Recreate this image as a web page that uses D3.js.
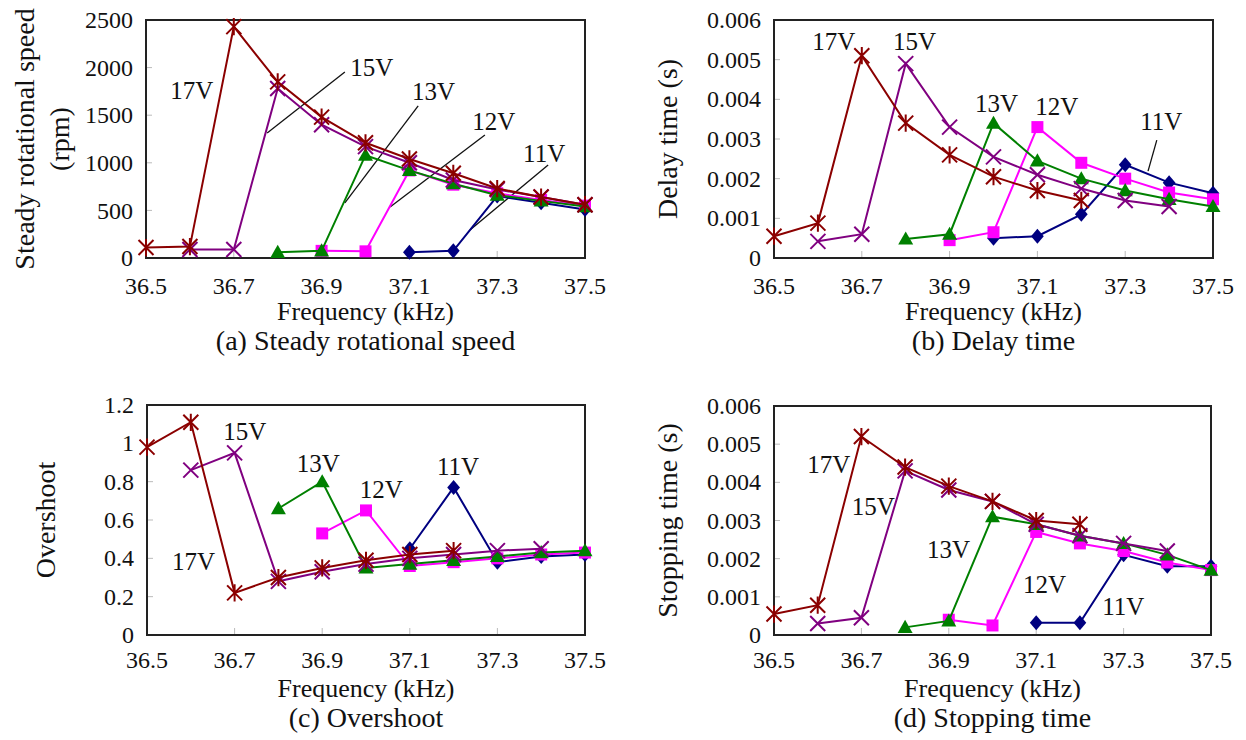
<!DOCTYPE html>
<html>
<head>
<meta charset="utf-8">
<script src="https://cdn.jsdelivr.net/npm/d3@7"></script>
<style>
body { margin: 0; background: #fff; }
svg text { font-family: "Liberation Serif", "Times New Roman", serif; fill: #111; }
</style>
</head>
<body>
<svg id="chart" width="1246" height="740"></svg>
<script>
// frequency steps (kHz), one value per measurement
const freq = [36.5, 36.6, 36.7, 36.8, 36.9, 37.0, 37.1, 37.2, 37.3, 37.4, 37.5]
const xTicks = [36.5, 36.7, 36.9, 37.1, 37.3, 37.5]

// (a) steady rotational speed, rpm
const speed17 = [110, 120, 2430, 1850, 1480, 1210, 1040, 890, 730, 640, 560]
const speed15 = [null, 90, 90, 1780, 1400, 1170, 1000, 820, 720, 640, 560]
const speed13 = [null, null, null, 60, 75, 1080, 920, 780, 660, 600, 540]
const speed12 = [null, null, null, null, 75, 70, 920, 770, 680, 610, 550]
const speed11 = [null, null, null, null, null, null, 60, 75, 650, 580, 510]
const speedTicks = [0, 500, 1000, 1500, 2000, 2500]

// (b) delay time, s
const delay17 = [0.00055, 0.00088, 0.0051, 0.0034, 0.0026, 0.00205, 0.0017, 0.00145, null, null, null]
const delay15 = [null, 0.00042, 0.0006, 0.0049, 0.0033, 0.00255, 0.0021, 0.00175, 0.00145, 0.0013, null]
const delay13 = [null, null, null, 0.00048, 0.0006, 0.0034, 0.00245, 0.002, 0.0017, 0.00148, 0.0013]
const delay12 = [null, null, null, null, 0.00045, 0.00065, 0.0033, 0.0024, 0.002, 0.00165, 0.00148]
const delay11 = [null, null, null, null, null, 0.0005, 0.00055, 0.0011, 0.00235, 0.0019, 0.00163]
const delayTicks = [0, 0.001, 0.002, 0.003, 0.004, 0.005, 0.006]

// (c) overshoot
const over17 = [0.98, 1.11, 0.22, 0.3, 0.35, 0.39, 0.42, 0.44, null, null, null]
const over15 = [null, 0.86, 0.95, 0.28, 0.33, 0.37, 0.4, 0.42, 0.44, 0.45, null]
const over13 = [null, null, null, 0.66, 0.8, 0.35, 0.37, 0.39, 0.41, 0.43, 0.44]
const over12 = [null, null, null, null, 0.53, 0.65, 0.36, 0.38, 0.4, 0.42, 0.43]
const over11 = [null, null, null, null, null, null, 0.45, 0.77, 0.38, 0.41, 0.42]
const overTicks = [0, 0.2, 0.4, 0.6, 0.8, 1, 1.2]

// (d) stopping time, s
const stop17 = [0.00055, 0.00078, 0.0052, 0.0044, 0.0039, 0.0035, 0.003, 0.0029, null, null, null]
const stop15 = [null, 0.0003, 0.00045, 0.0043, 0.0038, 0.0035, 0.0029, 0.0026, 0.0024, 0.0022, null]
const stop13 = [null, null, null, 0.0002, 0.00037, 0.0031, 0.0029, 0.0026, 0.0024, 0.0021, 0.0017]
const stop12 = [null, null, null, null, 0.0004, 0.00025, 0.0027, 0.0024, 0.0022, 0.0019, 0.0017]
const stop11 = [null, null, null, null, null, null, 0.00032, 0.00032, 0.0021, 0.0018, 0.0018]
const stopTicks = [0, 0.001, 0.002, 0.003, 0.004, 0.005, 0.006]

const volts = ['11V', '12V', '13V', '15V', '17V']

const style = {
	'11V': { color: '#000080', marker: 'diamond' },
	'12V': { color: '#ff00ff', marker: 'square' },
	'13V': { color: '#008000', marker: 'triangle' },
	'15V': { color: '#800080', marker: 'x' },
	'17V': { color: '#8b0000', marker: 'star' }
}

const fmt3 = v => v === 0 ? '0' : d3.format('.3f')(v)

const panels = [
	{
		box: [146, 20, 585, 258], yMax: 2500, yTicks: speedTicks, fmt: d => d,
		series: [speed11, speed12, speed13, speed15, speed17],
		yTitle: ['Steady rotational speed', '(rpm)'], yTitleX: [24, 59],
		caption: '(a) Steady rotational speed', tickY: 36, titleY: 62, capY: 92,
		labels: [['17V', 36.555, 1670], ['15V', 36.965, 1912], ['13V', 37.106, 1660], ['12V', 37.243, 1345], ['11V', 37.359, 1008]],
		leaders: [[36.953, 1954, 36.776, 1313], [37.12, 1597, 36.953, 578], [37.272, 1292, 37.056, 536], [37.416, 977, 37.238, 294]]
	},
	{
		box: [774, 20, 1213, 258], yMax: 0.006, yTicks: delayTicks, fmt: fmt3,
		series: [delay11, delay12, delay13, delay15, delay17],
		yTitle: ['Delay time (s)'], yTitleX: [667],
		caption: '(b) Delay time', tickY: 36, titleY: 62, capY: 92,
		labels: [['17V', 36.587, 0.00524], ['15V', 36.771, 0.00524], ['13V', 36.958, 0.00368], ['12V', 37.095, 0.0036], ['11V', 37.334, 0.00323]],
		leaders: [[37.372, 0.00297, 37.352, 0.00219]]
	},
	{
		box: [147, 405, 585, 635], yMax: 1.2, yTicks: overTicks, fmt: d => String(d),
		series: [over11, over12, over13, over15, over17],
		yTitle: ['Overshoot'], yTitleX: [45],
		caption: '(c) Overshoot', tickY: 33, titleY: 62, capY: 92,
		labels: [['17V', 36.557, 0.339], ['15V', 36.674, 1.017], ['13V', 36.842, 0.85], ['12V', 36.986, 0.715], ['11V', 37.162, 0.835]],
		leaders: []
	},
	{
		box: [774, 406, 1211, 635], yMax: 0.006, yTicks: stopTicks, fmt: fmt3,
		series: [stop11, stop12, stop13, stop15, stop17],
		yTitle: ['Stopping time (s)'], yTitleX: [667],
		caption: '(d) Stopping time', tickY: 33, titleY: 62, capY: 92,
		labels: [['17V', 36.576, 0.00424], ['15V', 36.678, 0.00314], ['13V', 36.85, 0.00202], ['12V', 37.07, 0.0011], ['11V', 37.251, 0.00052]],
		leaders: []
	}
]

const svg = d3.select('#chart')

const markerPath = (type, r) => {
	if (type === 'diamond') return `M0,${-r}L${r * 0.85},0L0,${r}L${-r * 0.85},0Z`
	if (type === 'square') return `M${-r * 0.8},${-r * 0.8}h${r * 1.6}v${r * 1.6}h${-r * 1.6}Z`
	if (type === 'triangle') return `M0,${-r}L${r},${r * 0.75}L${-r},${r * 0.75}Z`
	if (type === 'x') return `M${-r},${-r}L${r},${r}M${-r},${r}L${r},${-r}`
	// star: x plus a vertical stroke
	return `M${-r},${-r}L${r},${r}M${-r},${r}L${r},${-r}M0,${-r * 1.15}L0,${r * 1.15}`
}

panels.forEach(p => {
	const [x0, y0, x1, y1] = p.box
	const g = svg.append('g')

	const x = d3.scaleLinear().domain([36.5, 37.5]).range([x0, x1])
	const y = d3.scaleLinear().domain([0, p.yMax]).range([y1, y0])

	// inner tick marks
	g.selectAll('.ytick')
		.data(p.yTicks.slice(1, -1))
		.enter()
		.append('line')
		.attr('x1', x0).attr('x2', x0 + 6)
		.attr('y1', d => y(d)).attr('y2', d => y(d))
		.style('stroke', '#bbb').style('stroke-width', 1)

	g.selectAll('.xtick')
		.data(xTicks.slice(1, -1))
		.enter()
		.append('line')
		.attr('x1', d => x(d)).attr('x2', d => x(d))
		.attr('y1', y1).attr('y2', y1 - 7)
		.style('stroke', '#bbb').style('stroke-width', 1)

	g.append('rect')
		.attr('x', x0).attr('y', y0)
		.attr('width', x1 - x0).attr('height', y1 - y0)
		.style('fill', 'none').style('stroke', '#222').style('stroke-width', 2)

	// tick labels
	g.selectAll('.ylab')
		.data(p.yTicks)
		.enter()
		.append('text')
		.attr('x', x0 - 13)
		.attr('y', d => y(d))
		.attr('dy', '0.34em')
		.attr('text-anchor', 'end')
		.style('font-size', '24px')
		.text(p.fmt)

	g.selectAll('.xlab')
		.data(xTicks)
		.enter()
		.append('text')
		.attr('x', d => x(d))
		.attr('y', y1 + p.tickY)
		.attr('text-anchor', 'middle')
		.style('font-size', '24px')
		.text(d => d.toFixed(1))

	// titles
	const cx = (x0 + x1) / 2
	g.append('text')
		.attr('x', cx).attr('y', y1 + p.titleY)
		.attr('text-anchor', 'middle')
		.style('font-size', '26px')
		.text('Frequency (kHz)')

	g.append('text')
		.attr('x', cx).attr('y', y1 + p.capY)
		.attr('text-anchor', 'middle')
		.style('font-size', '28px')
		.text(p.caption)

	const cy = (y0 + y1) / 2
	p.yTitle.forEach((t, i) => {
		g.append('text')
			.attr('transform', `translate(${p.yTitleX[i]},${cy}) rotate(-90)`)
			.attr('text-anchor', 'middle')
			.attr('dy', '0.35em')
			.style('font-size', '28px')
			.text(t)
	})

	// leader lines
	g.selectAll('.leader')
		.data(p.leaders)
		.enter()
		.append('line')
		.attr('x1', d => x(d[0])).attr('y1', d => y(d[1]))
		.attr('x2', d => x(d[2])).attr('y2', d => y(d[3]))
		.style('stroke', '#111').style('stroke-width', 1.3)

	// series
	const line = d3.line()
		.defined(d => d.v !== null)
		.x(d => x(d.f))
		.y(d => y(d.v))

	p.series.forEach((vals, si) => {
		const s = style[volts[si]]
		const pts = vals.map((v, i) => ({ f: freq[i], v }))

		g.append('path')
			.datum(pts)
			.attr('d', line)
			.style('fill', 'none')
			.style('stroke', s.color)
			.style('stroke-width', 2)

		const stroked = s.marker === 'x' || s.marker === 'star'
		g.selectAll('.m' + si)
			.data(pts.filter(d => d.v !== null))
			.enter()
			.append('path')
			.attr('transform', d => `translate(${x(d.f)},${y(d.v)})`)
			.attr('d', markerPath(s.marker, 7.5))
			.style('fill', stroked ? 'none' : s.color)
			.style('stroke', s.color)
			.style('stroke-width', stroked ? 2 : 0)
	})

	// series labels
	g.selectAll('.vlab')
		.data(p.labels)
		.enter()
		.append('text')
		.attr('x', d => x(d[1]))
		.attr('y', d => y(d[2]))
		.style('font-size', '25px')
		.text(d => d[0])
})
</script>
</body>
</html>
